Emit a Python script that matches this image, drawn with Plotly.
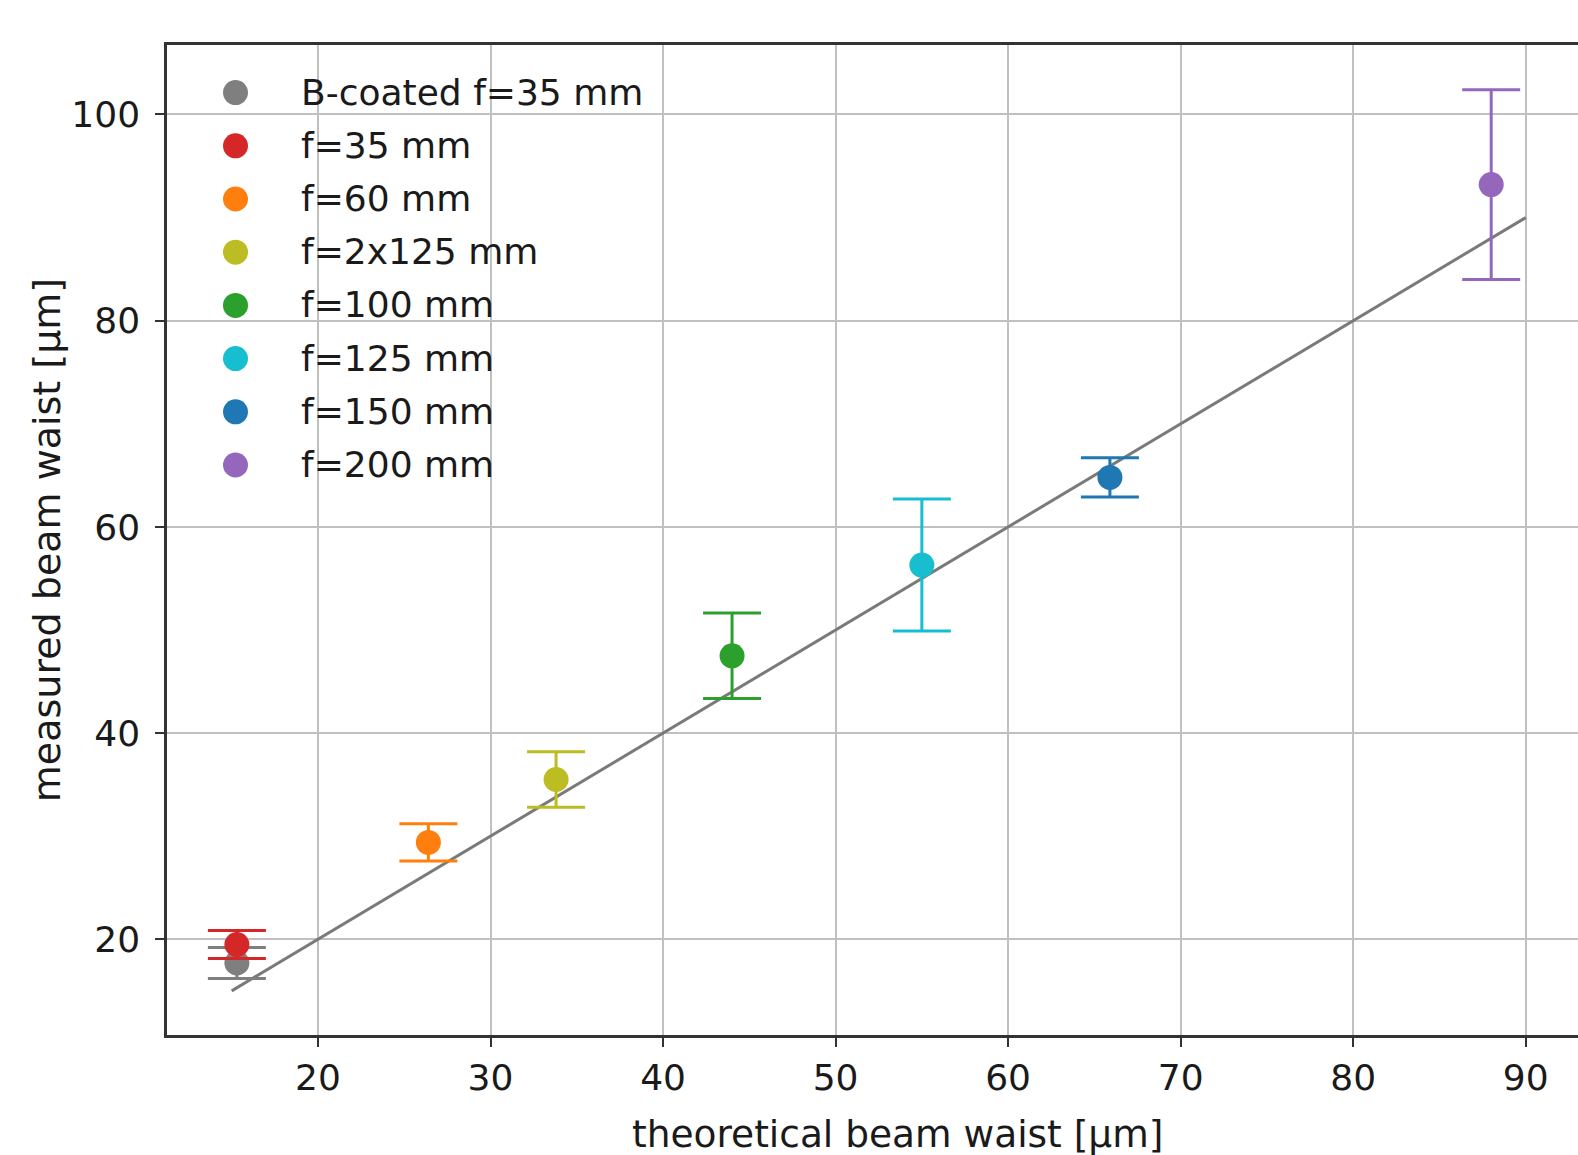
import plotly.graph_objects as go

# ---- data ----
names = ["B-coated f=35 mm", "f=35 mm", "f=60 mm", "f=2x125 mm",
         "f=100 mm", "f=125 mm", "f=150 mm", "f=200 mm"]
theoretical = [15.3, 15.3, 26.4, 33.8, 44.0, 55.0, 65.9, 88.0]
measured = [17.7, 19.5, 29.4, 35.5, 47.5, 56.3, 64.8, 93.2]
measured_err = [1.5, 1.35, 1.8, 2.7, 4.15, 6.4, 1.9, 9.2]
colors = ["#7f7f7f", "#d62728", "#ff7f0e", "#bcbd22",
          "#2ca02c", "#17becf", "#1f77b4", "#9467bd"]
line_x = [15, 90]
line_y = [15, 90]

x_ticks = [20, 30, 40, 50, 60, 70, 80, 90]
y_ticks = [20, 40, 60, 80, 100]
x_title = "theoretical beam waist [µm]"
y_title = "measured beam waist [µm]"

FONT = "DejaVu Sans"
TXT = "#1a1a1a"
W, H = 1578, 1155
ML, MT, MB, MR = 167, 45, 120, 0
PW, PH = W - ML - MR, H - MT - MB   # plot area in pixels

# legend layout (pixel offsets inside the plot area)
LEG_MX, LEG_TX, LEG_Y0, LEG_DY, LEG_TDY = 68.5, 134, 47.6, 53.2, 3

fig = go.Figure()

fig.add_trace(go.Scatter(
    x=line_x, y=line_y, mode="lines",
    line=dict(color="#7a7a7a", width=3),
    showlegend=False, hoverinfo="skip"))

for n, xv, yv, ev, c in zip(names, theoretical, measured, measured_err, colors):
    fig.add_trace(go.Scatter(
        x=[xv], y=[yv], mode="markers", name=n, showlegend=False,
        marker=dict(color=c, size=25),
        error_y=dict(type="data", array=[ev], visible=True,
                     color=c, thickness=3, width=29),
    ))

# legend drawn on an overlay axis measured in pixels of the plot area
leg_y = [LEG_Y0 + LEG_DY * i for i in range(len(names))]
fig.add_trace(go.Scatter(
    x=[LEG_MX] * len(names), y=leg_y, mode="markers",
    marker=dict(color=colors, size=25),
    xaxis="x2", yaxis="y2", showlegend=False, hoverinfo="skip"))
fig.add_trace(go.Scatter(
    x=[LEG_TX] * len(names), y=[v + LEG_TDY for v in leg_y], mode="text",
    text=names, textposition="middle right",
    textfont=dict(family=FONT, size=36, color=TXT),
    xaxis="x2", yaxis="y2", showlegend=False, hoverinfo="skip"))

fig.update_layout(
    width=W, height=H,
    margin=dict(l=ML, r=MR, t=MT, b=MB, pad=0),
    paper_bgcolor="white", plot_bgcolor="white",
    font=dict(family=FONT, size=36, color=TXT),
    showlegend=False,
    xaxis=dict(
        range=[11.25, 93.03], tickvals=x_ticks,
        showgrid=True, gridcolor="#c0c0c0", gridwidth=2,
        showline=True, linecolor="#333333", linewidth=2.5, mirror=True,
        ticks="outside", ticklen=9, tickwidth=2, tickcolor="#333333",
        ticklabelstandoff=0,
        zeroline=False,
    ),
    yaxis=dict(
        range=[10.72, 106.74], tickvals=y_ticks,
        showgrid=True, gridcolor="#c0c0c0", gridwidth=2,
        showline=True, linecolor="#333333", linewidth=2.5, mirror=False,
        ticks="outside", ticklen=9, tickwidth=2, tickcolor="#333333",
        ticklabelstandoff=8,
        zeroline=False,
        title=dict(text=y_title, standoff=0,
                   font=dict(family=FONT, size=38, color=TXT)),
    ),
    xaxis2=dict(overlaying="x", anchor="y2", range=[0, PW], visible=False,
                fixedrange=True),
    yaxis2=dict(overlaying="y", anchor="x2", range=[PH, 0], visible=False,
                fixedrange=True),
    annotations=[dict(
        text=x_title, xref="paper", yref="paper",
        x=(897 - ML) / PW, y=-(1134 - (H - MB)) / PH,
        xanchor="center", yanchor="middle", showarrow=False,
        font=dict(family=FONT, size=37.5, color=TXT),
    )],
)

fig.write_html("out.html")
